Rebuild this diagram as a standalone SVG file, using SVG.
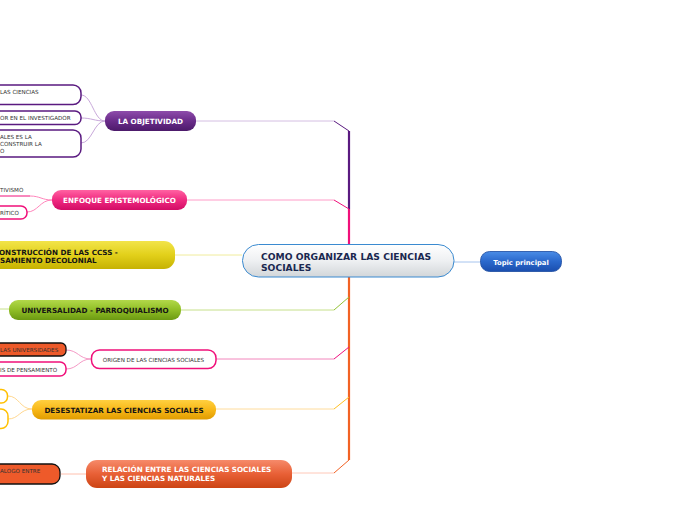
<svg xmlns="http://www.w3.org/2000/svg" width="696" height="520" viewBox="0 0 696 520">
<defs>
<linearGradient id="gPurple" x1="0" y1="0" x2="0" y2="1"><stop offset="0" stop-color="#8e4cab"/><stop offset="0.5" stop-color="#6a2c8a"/><stop offset="1" stop-color="#4c1a6a"/></linearGradient>
<linearGradient id="gPink" x1="0" y1="0" x2="0" y2="1"><stop offset="0" stop-color="#ff62a2"/><stop offset="0.5" stop-color="#f02a80"/><stop offset="1" stop-color="#d20c66"/></linearGradient>
<linearGradient id="gYellow" x1="0" y1="0" x2="0" y2="1"><stop offset="0" stop-color="#f2e44a"/><stop offset="0.5" stop-color="#e2d01a"/><stop offset="1" stop-color="#c6b202"/></linearGradient>
<linearGradient id="gGreen" x1="0" y1="0" x2="0" y2="1"><stop offset="0" stop-color="#b2d84a"/><stop offset="0.5" stop-color="#90be26"/><stop offset="1" stop-color="#6c9a12"/></linearGradient>
<linearGradient id="gGold" x1="0" y1="0" x2="0" y2="1"><stop offset="0" stop-color="#ffd040"/><stop offset="0.5" stop-color="#f8b818"/><stop offset="1" stop-color="#e09c00"/></linearGradient>
<linearGradient id="gRed" x1="0" y1="0" x2="0" y2="1"><stop offset="0" stop-color="#f68a6a"/><stop offset="0.5" stop-color="#e86036"/><stop offset="1" stop-color="#cc4414"/></linearGradient>
<linearGradient id="gCenter" x1="0" y1="0" x2="0" y2="1"><stop offset="0" stop-color="#ffffff"/><stop offset="0.5" stop-color="#eef0f2"/><stop offset="1" stop-color="#d2d6d9"/></linearGradient>
<linearGradient id="gBlue" x1="0" y1="0" x2="0" y2="1"><stop offset="0" stop-color="#4a8ce6"/><stop offset="0.5" stop-color="#2a68cc"/><stop offset="1" stop-color="#1a4eae"/></linearGradient>
</defs>
<style>
.bt{font-family:"DejaVu Sans",Verdana,sans-serif;font-weight:bold;font-size:7.2px}
.w{fill:#ffffff}
.k{fill:#141414}
.st{font-family:"DejaVu Sans",Verdana,sans-serif;font-size:5.6px;fill:#333333}
.ct{font-family:"DejaVu Sans",Verdana,sans-serif;font-weight:bold;font-size:9.2px;fill:#1a2850}
.child{fill:#ffffff;stroke-width:1.5}
.ln{fill:none;stroke-width:1}
.sp{fill:none;stroke-width:2.2}
</style>

<g id="connectors">
  <!-- spine -->
  <line class="sp" x1="349" y1="131" x2="349" y2="209" stroke="#5a1a80"/>
  <line class="sp" x1="349" y1="209" x2="349" y2="250" stroke="#f0107a"/>
  <line class="sp" x1="349" y1="270" x2="349" y2="460" stroke="#f26224"/>
  <!-- branch lines -->
  <polyline class="ln" points="196,121 334,121" stroke="#d4bee2"/>
  <line class="ln" x1="334" y1="121" x2="349" y2="131" stroke="#5a1a80" stroke-width="1.2"/>
  <polyline class="ln" points="187,200 334,200" stroke="#ff9cc8"/>
  <line class="ln" x1="334" y1="200" x2="349" y2="209" stroke="#f0107a" stroke-width="1.2"/>
  <line class="ln" x1="175" y1="255" x2="242" y2="255" stroke="#f0ec9c"/>
  <polyline class="ln" points="181,310 334,310" stroke="#c6e08a"/>
  <line class="ln" x1="334" y1="310" x2="349" y2="297" stroke="#92c234" stroke-width="1.2"/>
  <polyline class="ln" points="216,359 334,359" stroke="#f286bc"/>
  <line class="ln" x1="334" y1="359" x2="349" y2="347" stroke="#f01080" stroke-width="1.2"/>
  <polyline class="ln" points="216,409 334,409" stroke="#ffdc9c"/>
  <line class="ln" x1="334" y1="409" x2="349" y2="397" stroke="#ffc020" stroke-width="1.2"/>
  <polyline class="ln" points="292,473 334,473" stroke="#ffc8b8"/>
  <line class="ln" x1="334" y1="473" x2="349" y2="460" stroke="#f26224" stroke-width="1.2"/>
  <line class="ln" x1="454" y1="262" x2="480" y2="262" stroke="#a6c4ee"/>
  <!-- child connectors -->
  <path class="ln" d="M105,121 C94,121 92,95 81,95" stroke="#c8a8da"/>
  <path class="ln" d="M105,121 C94,121 92,118 81,118" stroke="#c8a8da"/>
  <path class="ln" d="M105,121 C94,121 92,143 81,143" stroke="#c8a8da"/>
  <path class="ln" d="M52,200 C42,200 40,196 30,196" stroke="#ff86bc"/>
  <path class="ln" d="M52,200 C40,200 38,212 27,212" stroke="#ff86bc"/>
  <line class="ln" x1="0" y1="196" x2="30" y2="196" stroke="#f0107a" stroke-width="1.2"/>
  <line class="ln" x1="0" y1="309" x2="9" y2="309" stroke="#c6e08a"/>
  <path class="ln" d="M91,359 C79,359 78,350 66,350" stroke="#f59ac6"/>
  <path class="ln" d="M91,359 C79,359 78,369 66,369" stroke="#f59ac6"/>
  <path class="ln" d="M32,409 C20,409 19,396 8,396" stroke="#ffd890"/>
  <path class="ln" d="M32,409 C20,409 19,419 8,419" stroke="#ffd890"/>
  <line class="ln" x1="61" y1="474" x2="86" y2="474" stroke="#ffc0ae"/>
</g>

<g id="node-objetividad">
  <rect x="105" y="111" width="91" height="20" rx="9" fill="url(#gPurple)"/>
  <text class="bt w" x="150.5" y="123.5" text-anchor="middle">LA OBJETIVIDAD</text>
</g>
<g id="node-obj-1">
  <rect class="child" x="-12" y="85" width="93" height="19.5" rx="8" stroke="#5a1a80"/>
  <text class="st" x="0" y="94">LAS CIENCIAS</text>
</g>
<g id="node-obj-2">
  <rect class="child" x="-12" y="111" width="93" height="13.5" rx="6" stroke="#5a1a80"/>
  <text class="st" x="0" y="120">OR EN EL INVESTIGADOR</text>
</g>
<g id="node-obj-3">
  <rect class="child" x="-12" y="130" width="93" height="27" rx="8" stroke="#5a1a80"/>
  <text class="st" x="0" y="139">ALES ES LA</text>
  <text class="st" x="0" y="146">CONSTRUIR LA</text>
  <text class="st" x="0" y="153">O</text>
</g>

<g id="node-enfoque">
  <rect x="52" y="190" width="135" height="20" rx="9" fill="url(#gPink)"/>
  <text class="bt w" x="119.5" y="203" text-anchor="middle">ENFOQUE EPISTEMOLÓGICO</text>
</g>
<g id="node-enf-1">
  <text class="st" x="0" y="192">TIVISMO</text>
</g>
<g id="node-enf-2">
  <rect class="child" x="-12" y="206" width="39" height="13" rx="6" stroke="#f0107a"/>
  <text class="st" x="0" y="215">RÍTICO</text>
</g>

<g id="node-decolonial">
  <rect x="-20" y="241" width="195" height="28" rx="11" fill="url(#gYellow)"/>
  <text class="bt k" x="-1" y="254.5">ONSTRUCCIÓN DE LAS CCSS -</text>
  <text class="bt k" x="0" y="263">SAMIENTO DECOLONIAL</text>
</g>

<g id="node-universalidad">
  <rect x="9" y="300" width="172" height="20" rx="9" fill="url(#gGreen)"/>
  <text class="bt k" x="95" y="312.5" text-anchor="middle">UNIVERSALIDAD - PARROQUIALISMO</text>
</g>

<g id="node-origen">
  <rect class="child" x="91.5" y="350" width="124.5" height="18.5" rx="8" stroke="#f0107a"/>
  <text class="st" x="153.5" y="361.5" text-anchor="middle">ORIGEN DE LAS CIENCIAS SOCIALES</text>
</g>
<g id="node-ori-1">
  <rect x="-12" y="343" width="78" height="13" rx="5" fill="#ee5a2a" stroke="#111111" stroke-width="1.3"/>
  <text class="st" x="0" y="352">LAS UNIVERSIDADES</text>
</g>
<g id="node-ori-2">
  <rect class="child" x="-12" y="362" width="78" height="14" rx="6" stroke="#f0107a"/>
  <text class="st" x="0" y="371.5">IS DE PENSAMIENTO</text>
</g>

<g id="node-desestatizar">
  <rect x="32" y="400" width="184" height="19.5" rx="9" fill="url(#gGold)"/>
  <text class="bt k" x="124" y="412.5" text-anchor="middle">DESESTATIZAR LAS CIENCIAS SOCIALES</text>
</g>
<g id="node-des-1">
  <rect class="child" x="-12" y="389.5" width="19.5" height="13.5" rx="6" stroke="#ffc000"/>
</g>
<g id="node-des-2">
  <rect class="child" x="-12" y="409" width="20" height="19.5" rx="7" stroke="#ffc000"/>
</g>

<g id="node-relacion">
  <rect x="86" y="460" width="206" height="28" rx="11" fill="url(#gRed)"/>
  <text class="bt w" x="102" y="472">RELACIÓN ENTRE LAS CIENCIAS SOCIALES</text>
  <text class="bt w" x="102" y="481">Y LAS CIENCIAS NATURALES</text>
</g>
<g id="node-rel-1">
  <rect x="-12" y="464" width="72" height="20" rx="8" fill="#ee5a2a" stroke="#111111" stroke-width="1.3"/>
  <text class="st" x="0" y="473">ALOGO ENTRE</text>
</g>

<g id="node-center">
  <rect x="242.5" y="244.5" width="211.5" height="32.5" rx="16" fill="url(#gCenter)" stroke="#3a8ad0" stroke-width="1"/>
  <text class="ct" x="261" y="259.5">COMO ORGANIZAR LAS CIENCIAS</text>
  <text class="ct" x="261" y="270.5">SOCIALES</text>
</g>

<g id="node-topic">
  <rect x="480.5" y="251.5" width="81" height="20" rx="9" fill="url(#gBlue)" stroke="#1a4aa0" stroke-width="0.8"/>
  <text class="bt w" x="521" y="264.5" text-anchor="middle" style="font-size:6.8px">Topic principal</text>
</g>
</svg>
